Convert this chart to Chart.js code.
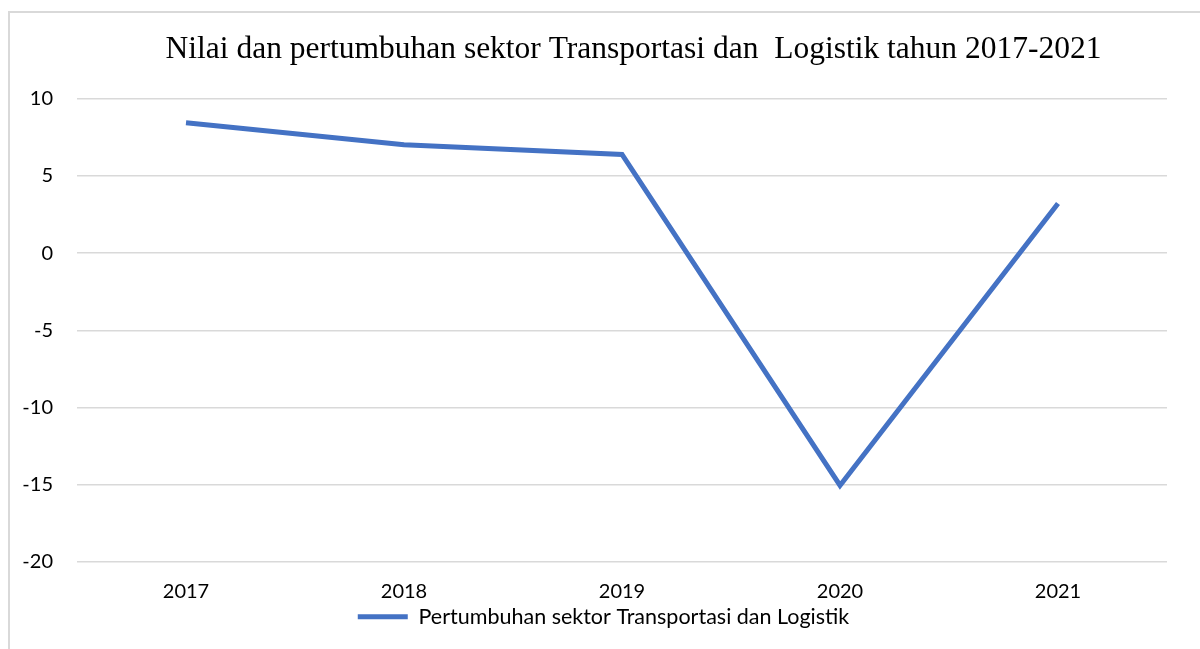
<!DOCTYPE html>
<html>
<head>
<meta charset="utf-8">
<script src="https://cdn.jsdelivr.net/npm/chart.js@4.4.0/dist/chart.umd.min.js"></script>
<style>
  html, body { margin: 0; padding: 0; background: #fff; }
  #bingkai {
    position: absolute; left: 8px; top: 11px; width: 1300px; height: 700px;
    border-left: 2px solid #d9d9d9; border-top: 2px solid #d9d9d9;
  }
  #wadah { position: absolute; left: 0; top: 0; width: 1200px; height: 649px; }
</style>
</head>
<body>
<div id="bingkai"></div>
<div id="wadah"><canvas id="grafik"></canvas></div>
<script>
const tahun = ['2017', '2018', '2019', '2020', '2021'];
const pertumbuhan = [8.45, 7.03, 6.4, -15.04, 3.22];
const judul = 'Nilai dan pertumbuhan sektor Transportasi dan  Logistik tahun 2017-2021';
const namaSeri = 'Pertumbuhan sektor Transportasi dan Logistik';

const warnaGaris = '#4472C4';
const warnaGrid = '#d9d9d9';

// geser judul dan legenda sedikit ke kanan, seperti di gambar asli
const geserKotak = {
  id: 'geserKotak',
  afterLayout(chart) {
    if (chart.titleBlock) { chart.titleBlock.left += 50; chart.titleBlock.right += 50; }
    if (chart.legend) { chart.legend.left += 20; chart.legend.right += 20; }
  }
};

const ctx = document.getElementById('grafik').getContext('2d');
window.grafik = new Chart(ctx, {
  type: 'line',
  data: {
    labels: tahun,
    datasets: [{
      label: namaSeri,
      data: pertumbuhan,
      borderColor: warnaGaris,
      backgroundColor: warnaGaris,
      borderWidth: 5,
      pointRadius: 0,
      tension: 0,
      borderJoinStyle: 'miter'
    }]
  },
  options: {
    responsive: true,
    maintainAspectRatio: false,
    animation: false,
    layout: { padding: { left: 0, right: 33, top: 0, bottom: 17 } },
    plugins: {
      title: {
        display: true,
        text: judul,
        color: '#000',
        font: { family: '"Liberation Serif", "Times New Roman", serif', size: 31.5, weight: 'normal', lineHeight: 1.2 },
        padding: { top: 31, bottom: 30 }
      },
      legend: {
        position: 'bottom',
        maxHeight: 30,
        labels: {
          color: '#000',
          font: { family: 'Lato, Calibri, sans-serif', size: 21.5, lineHeight: 1 },
          boxWidth: 50,
          boxHeight: 5,
          padding: 4,
          generateLabels: (chart) => chart.data.datasets.map((ds, i) => ({
            text: ds.label,
            fillStyle: ds.borderColor,
            strokeStyle: ds.borderColor,
            lineWidth: 0,
            datasetIndex: i
          }))
        }
      },
      tooltip: { enabled: false }
    },
    scales: {
      x: {
        offset: true,
        grid: { display: false, drawTicks: false },
        border: { display: false },
        afterFit: (skala) => { skala.height = 40; },
        ticks: {
          color: '#000',
          padding: 20,
          font: { family: 'Lato, Calibri, sans-serif', size: 20, lineHeight: 1 }
        }
      },
      y: {
        min: -20,
        max: 10,
        grid: { color: warnaGrid, lineWidth: 1.5, drawTicks: false },
        border: { display: false },
        afterFit: (skala) => { skala.width = 77; },
        ticks: {
          stepSize: 5,
          color: '#000',
          padding: 24,
          font: { family: 'Lato, Calibri, sans-serif', size: 20 }
        }
      }
    }
  },
  plugins: [geserKotak]
});
</script>
</body>
</html>
